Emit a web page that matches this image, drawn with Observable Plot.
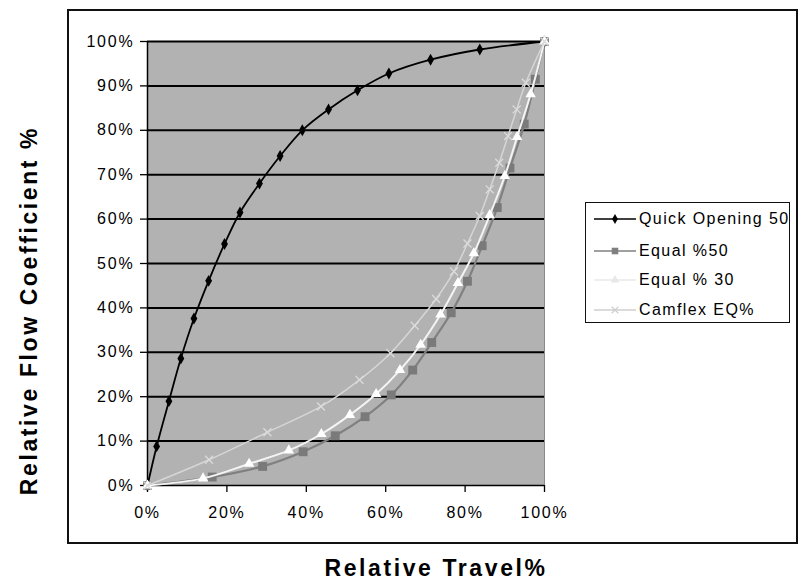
<!DOCTYPE html>
<html>
<head>
<meta charset="utf-8">
<script src="https://cdn.jsdelivr.net/npm/d3@7"></script>
<script src="https://cdn.jsdelivr.net/npm/@observablehq/plot@0.6"></script>
<style>
  html, body { margin: 0; padding: 0; background: #fff; }
  #wrap { position: relative; width: 801px; height: 585px; overflow: hidden; font-family: "Liberation Sans", Arial, sans-serif; }
  #outer { position: absolute; left: 67px; top: 9px; width: 731px; height: 535px; border: 2px solid #111; box-sizing: border-box; pointer-events: none; }
  #legend { position: absolute; left: 585px; top: 202px; width: 205px; height: 121px; border: 1.5px solid #111; box-sizing: border-box; background: #fff; }
  .row { position: absolute; left: 6px; height: 24px; display: flex; align-items: center; }
  .row svg { display: block; }
  .row span { font-size: 16px; letter-spacing: 1.4px; margin-left: 1px; color: #000; white-space: nowrap; }
</style>
</head>
<body>
<div id="wrap"><div id="chart"></div><div id="outer"></div><div id="legend"></div></div>
<script>
// ---- data ----
const seriesNames = ["Quick Opening 50", "Equal %50", "Equal % 30", "Camflex EQ%"];

const quickTravel = [0, 2.3, 5.4, 8.4, 11.7, 15.4, 19.4, 23.3, 28.2, 33.4, 39.0, 45.6, 52.9, 60.8, 71.3, 83.7, 100];
const quickFlow   = [0, 8.8, 19.0, 28.6, 37.6, 46.1, 54.4, 61.5, 68.0, 74.2, 80.0, 84.7, 89.0, 92.8, 95.9, 98.2, 100];

const eq50Travel = [0, 16.3, 29.0, 39.2, 47.3, 54.8, 61.4, 66.8, 71.6, 76.5, 80.6, 84.3, 88.1, 91.3, 94.9, 97.7, 100];
const eq50Flow   = [0, 1.9, 4.3, 7.6, 11.2, 15.5, 20.4, 26.0, 32.2, 38.9, 46.0, 54.0, 62.6, 71.5, 81.4, 91.5, 100];

const eq30Travel = [0, 14.0, 25.6, 35.6, 43.8, 51.0, 57.6, 63.6, 68.8, 73.8, 78.2, 82.2, 86.2, 90.0, 93.1, 96.5, 100];
const eq30Flow   = [0, 1.6, 4.9, 7.9, 11.6, 15.9, 20.6, 26.0, 31.7, 38.5, 45.6, 52.3, 60.9, 69.7, 78.5, 88.1, 100];

const camTravel = [0, 15.5, 30.2, 43.7, 53.4, 61.2, 67.3, 72.7, 77.2, 80.6, 83.7, 86.2, 88.6, 90.8, 93.0, 95.3, 100];
const camFlow   = [0, 5.8, 12.0, 17.8, 23.8, 29.8, 36.0, 42.0, 48.2, 54.5, 60.7, 66.7, 72.7, 78.7, 84.7, 90.7, 100];

const xTicks = [0, 20, 40, 60, 80, 100];
const yTicks = [0, 10, 20, 30, 40, 50, 60, 70, 80, 90, 100];
const xTitle = "Relative Travel%";
const yTitle = "Relative Flow Coefficient %";

// ---- styles ----
const styles = [
  {stroke: "#000000", width: 1.8, symbol: "diamond", r: 3.6, fill: "#000000", mstroke: "none"},
  {stroke: "#808080", width: 2.2, symbol: "square", r: 5, fill: "#7a7a7a", mstroke: "none"},
  {stroke: "#f4f4f4", width: 2, symbol: "triangle", r: 3.9, fill: "#ffffff", mstroke: "none"},
  {stroke: "#d6d6d6", width: 1.5, symbol: "times", r: 3.7, fill: "none", mstroke: "#dcdcdc"}
];
const legendStyles = [
  {stroke: "#000000"}, {stroke: "#808080"}, {stroke: "#e8e8e8", fill: "#e8e8e8"}, {stroke: "#cfcfcf"}
];

const pairs = [[quickTravel, quickFlow], [eq50Travel, eq50Flow], [eq30Travel, eq30Flow], [camTravel, camFlow]];
const series = pairs.map(([xs, ys], i) => xs.map((x, j) => ({series: seriesNames[i], travel: x, flow: ys[j]})));

const seriesMarks = series.flatMap((data, i) => {
  const s = styles[i];
  return [
    Plot.line(data, {x: "travel", y: "flow", stroke: s.stroke, strokeWidth: s.width, curve: "catmull-rom"}),
    Plot.dot(data, {x: "travel", y: "flow", symbol: () => s.symbol, r: s.r,
      fill: s.fill, stroke: s.mstroke, strokeWidth: s.symbol === "times" ? 1.3 : 0})
  ];
});

const chart = Plot.plot({
  width: 801,
  height: 585,
  marginLeft: 147,
  marginRight: 257,
  marginTop: 41,
  marginBottom: 100,
  style: {fontFamily: "'Liberation Sans', Arial, sans-serif", fontSize: "16px", background: "transparent", color: "#000"},
  x: {domain: [0, 100]},
  y: {domain: [0, 100]},
  marks: [
    Plot.frame({fill: "#b2b2b2", stroke: "#8a8a8a"}),
    Plot.ruleY(yTicks.filter(d => d > 0), {stroke: "#000", strokeWidth: 2}),
    Plot.ruleX([0], {stroke: "#000", strokeWidth: 1.5}),
    Plot.ruleY([0], {stroke: "#000", strokeWidth: 1.5}),
    Plot.axisX(xTicks, {tickSize: 7, tickPadding: 14, tickFormat: d => d + "%", fontSize: 16, label: null, stroke: "#000", strokeWidth: 1.3}),
    Plot.axisY(yTicks, {tickSize: 7, tickPadding: 6, tickFormat: d => d + "%", fontSize: 16, label: null, stroke: "#000", strokeWidth: 1.3}),
    ...seriesMarks,
    Plot.text([xTitle], {text: d => d, frameAnchor: "bottom", textAnchor: "middle", lineAnchor: "middle", dx: 90, dy: 83, fontSize: 23, fontWeight: "bold"}),
    Plot.text([yTitle], {text: d => d, frameAnchor: "left", textAnchor: "middle", lineAnchor: "middle", rotate: -90, dx: -118, dy: 47, fontSize: 23, fontWeight: "bold"})
  ]
});
document.getElementById("chart").appendChild(chart);

// wider letter spacing, as in the reference's rendering
d3.select(chart).selectAll('g[aria-label$="tick label"] text').style("letter-spacing", "1.8px");
d3.select(chart).selectAll('g[aria-label="text"] text').style("letter-spacing", "2.6px");

// ---- legend ----
const legend = d3.select("#legend");
const symMap = {diamond: d3.symbolDiamond, square: d3.symbolSquare, triangle: d3.symbolTriangle, times: d3.symbolTimes};
const rowTops = [4, 36, 65, 95];
seriesNames.forEach((name, i) => {
  const s = styles[i], ls = legendStyles[i];
  const row = legend.append("div").attr("class", "row").style("top", rowTops[i] + "px");
  const svg = row.append("svg").attr("width", 46).attr("height", 24);
  svg.append("line").attr("x1", 2).attr("x2", 44).attr("y1", 12).attr("y2", 12)
    .attr("stroke", ls.stroke).attr("stroke-width", 1.6);
  const size = Math.PI * s.r * s.r * (s.symbol === "square" ? 0.55 : 0.7);
  const path = svg.append("path").attr("transform", "translate(23,12)")
    .attr("d", d3.symbol(symMap[s.symbol], size)());
  if (s.symbol === "times") path.attr("fill", "none").attr("stroke", ls.stroke).attr("stroke-width", 1.2);
  else path.attr("fill", ls.fill || ls.stroke);
  row.append("span").text(name);
});
</script>
</body>
</html>
